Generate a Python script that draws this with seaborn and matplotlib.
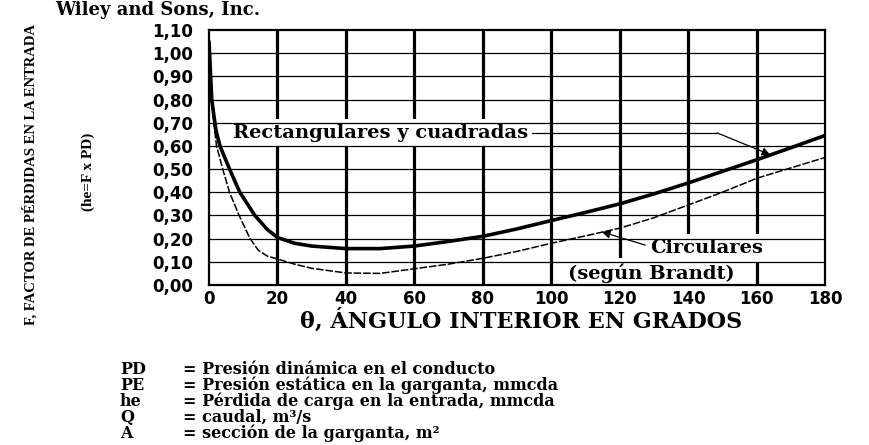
import matplotlib
matplotlib.use('Agg')
import matplotlib.pyplot as plt
import seaborn as sns

# Loss factor curves (angle in degrees, F)
rect_angle = [0, 0.8, 2, 3.2, 6, 9, 13.4, 17, 20, 25, 30, 40, 50, 60, 70, 80,
              90, 100, 110, 120, 130, 140, 150, 160, 170, 180]
rect_F = [1.05, 0.80, 0.67, 0.60, 0.50, 0.40, 0.30, 0.24, 0.205, 0.18, 0.168,
          0.157, 0.157, 0.168, 0.188, 0.21, 0.242, 0.278, 0.313, 0.35, 0.393,
          0.44, 0.49, 0.54, 0.592, 0.645]

circ_angle = [0, 1, 2.2, 4, 6, 8.8, 12, 14.4, 17, 20, 25, 30, 40, 50, 60, 70,
              80, 90, 100, 110, 120, 130, 140, 150, 160, 170, 180]
circ_F = [0.95, 0.75, 0.60, 0.50, 0.40, 0.30, 0.20, 0.15, 0.125, 0.112, 0.09,
          0.072, 0.052, 0.05, 0.07, 0.09, 0.115, 0.145, 0.18, 0.212, 0.245,
          0.29, 0.345, 0.40, 0.46, 0.505, 0.55]

x_ticks = [0, 20, 40, 60, 80, 100, 120, 140, 160, 180]
y_ticks = [0.0, 0.1, 0.2, 0.3, 0.4, 0.5, 0.6, 0.7, 0.8, 0.9, 1.0, 1.1]
y_tick_labels = ['0,00', '0,10', '0,20', '0,30', '0,40', '0,50', '0,60',
                 '0,70', '0,80', '0,90', '1,00', '1,10']

legend_keys = ['PD', 'PE', 'he', 'Q', 'A']
legend_text = ['= Presión dinámica en el conducto',
               '= Presión estática en la garganta, mmcda',
               '= Pérdida de carga en la entrada, mmcda',
               '= caudal, m³/s',
               '= sección de la garganta, m²']

sns.set_theme(style='white')
plt.rcParams['font.family'] = ['DejaVu Sans']
plt.rcParams['text.color'] = 'black'
plt.rcParams['xtick.color'] = 'black'
plt.rcParams['ytick.color'] = 'black'

W, H = 869, 445
fig = plt.figure(figsize=(W / 100, H / 100), dpi=100)
ax = fig.add_axes([209 / W, 1 - 285 / H, 616 / W, 255 / H])


def fx(px):
    return px / W


def fy(py):
    return 1 - py / H


# grid: heavy verticals, thin horizontals drawn over the label boxes
for xv in x_ticks[1:-1]:
    ax.axvline(xv, color='black', lw=2.3, zorder=1)
for yv in y_ticks[1:-1]:
    ax.axhline(yv, color='black', lw=0.9, zorder=3)

sns.lineplot(x=rect_angle, y=rect_F, ax=ax, color='black', lw=2.6, zorder=4)
sns.lineplot(x=circ_angle, y=circ_F, ax=ax, color='black', lw=1.1,
             linestyle=(0, (5, 1.2)), zorder=4)

ax.set_xlim(0, 180)
ax.set_ylim(0, 1.1)
ax.set_xticks(x_ticks)
ax.set_yticks(y_ticks)
ax.set_yticklabels(y_tick_labels)
ax.tick_params(axis='y', length=0, pad=11.5, labelsize=12, labelcolor='black')
ax.tick_params(axis='x', length=0, pad=3.5, labelsize=12, labelcolor='black')
for lab in ax.get_xticklabels() + ax.get_yticklabels():
    lab.set_fontweight('bold')
for sp in ax.spines.values():
    sp.set_color('black')
    sp.set_linewidth(1.6)
    sp.set_zorder(5)
ax.set_xlabel('')
ax.set_ylabel('')

box = dict(boxstyle='square,pad=0.25', fc='white', ec='none')
serif = dict(family='DejaVu Serif', fontweight='bold', color='black')

t_rect = ax.text(7, 0.656, 'Rectangulares y cuadradas', ha='left', va='center',
                 fontsize=14, bbox=box, zorder=2, **serif)
ax.text(129, 0.16, 'Circulares', ha='left', va='center', fontsize=14,
        bbox=box, zorder=2, **serif)
ax.text(105, 0.052, '(según Brandt)', ha='left', va='center', fontsize=14,
        bbox=box, zorder=2, **serif)

# leader lines
fig.canvas.draw()
bb = t_rect.get_window_extent()
x_end = ax.transData.inverted().transform((bb.x1, bb.y0))[0]
ax.plot([x_end + 1, 148.5], [0.656, 0.656], color='black', lw=0.9, zorder=4)
ax.annotate('', xy=(164, 0.562), xytext=(148.5, 0.656),
            arrowprops=dict(arrowstyle='-|>', color='black', lw=0.9,
                            mutation_scale=12, shrinkA=0, shrinkB=0),
            zorder=4)
ax.annotate('', xy=(114.8, 0.229), xytext=(127.5, 0.172),
            arrowprops=dict(arrowstyle='-|>', color='black', lw=0.9,
                            mutation_scale=12, shrinkA=0, shrinkB=0),
            zorder=4)

# header line from the source page
fig.text(fx(55), fy(15), 'Wiley and Sons, Inc.', ha='left', va='baseline',
         fontsize=13, **serif)

fig.text(fx(30), fy(174), 'F, FACTOR DE PÉRDIDAS EN LA ENTRADA',
         rotation=90, ha='center', va='center', fontsize=10.5,
         family='Liberation Serif', fontweight='bold', color='black')
fig.text(fx(88), fy(172), '(he=F x PD)', rotation=90, ha='center',
         va='center', fontsize=11, family='Liberation Serif',
         fontweight='bold', color='black')

fig.text(fx(521), fy(321), 'θ, ÁNGULO INTERIOR EN GRADOS', ha='center',
         va='center', fontsize=16, **serif)

line_base = [374, 390, 406, 422, 438]
for key, txt, py in zip(legend_keys, legend_text, line_base):
    fig.text(fx(120), fy(py), key, ha='left', va='baseline', fontsize=11.5,
             **serif)
    fig.text(fx(183), fy(py), txt, ha='left', va='baseline', fontsize=11.5,
             **serif)

fig.savefig('out.png', dpi=100)
